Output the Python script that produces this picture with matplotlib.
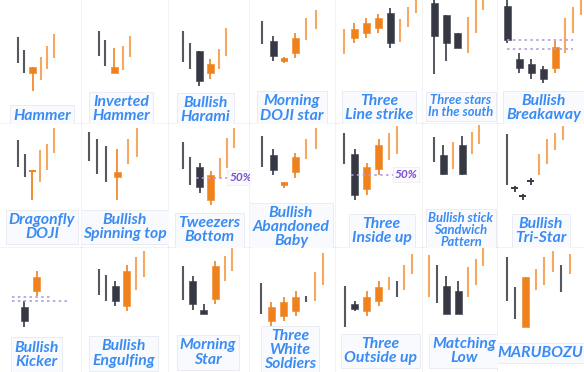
import matplotlib.pyplot as plt

# candle tuples: (kind, open, high, low, close)
# kind "w" = thin context line, "c" = full candle, "x" = doji / cross
HAMMER = [("w", 87, 87, 61, 61), ("w", 74, 74, 51, 51), ("c", 51, 57, 33, 57),
          ("w", 44, 67, 44, 67), ("w", 55, 78, 55, 78), ("w", 66, 90, 66, 90)]
INVERTED_HAMMER = [("w", 93, 93, 68, 68), ("w", 84, 84, 58, 58), ("c", 51, 76, 51, 57),
                   ("w", 54, 78, 54, 78), ("w", 67, 88, 67, 88)]
BULLISH_HARAMI = [("w", 93, 93, 62, 62), ("w", 81, 81, 55, 55), ("c", 73, 73, 38, 43),
                  ("c", 51, 65, 45, 60), ("w", 55, 75, 55, 75), ("w", 68, 96, 68, 96)]
MORNING_DOJI_STAR = [("w", 103, 103, 80, 80), ("c", 83, 88, 63, 68), ("x", 63.5, 66.5, 60.5, 64.5),
                     ("c", 71, 91, 66, 86), ("w", 84, 106, 84, 106), ("w", 95, 114, 95, 114)]
THREE_LINE_STRIKE = [("w", 70, 95, 70, 95), ("c", 86, 101, 81, 95), ("c", 91, 106, 86, 101),
                     ("c", 96, 110, 91, 106), ("c", 111, 116, 76, 81), ("w", 82, 105, 82, 105),
                     ("w", 97, 117, 97, 117), ("w", 111, 130, 111, 130)]
THREE_STARS_SOUTH = [("c", 121, 126, 50, 88), ("c", 109, 109, 63, 81), ("c", 91, 91, 76, 76),
                     ("w", 71, 107, 71, 107), ("w", 91, 128, 91, 128), ("w", 114, 130, 114, 130)]
BULLISH_BREAKAWAY = [("c", 118, 128, 81, 84), ("c", 65, 71, 51, 56), ("c", 60, 65, 45, 51),
                     ("c", 55, 58, 41, 45), ("c", 56, 83, 51, 77), ("w", 71, 106, 71, 106),
                     ("w", 91, 117, 91, 117), ("w", 109, 130, 109, 130)]

DRAGONFLY_DOJI = [("w", 107.5, 107.5, 81, 81), ("w", 94, 94, 71, 71), ("x", 77, 77, 47.5, 77),
                  ("w", 66, 97.5, 66, 97.5), ("w", 77.5, 103.5, 77.5, 103.5), ("w", 95, 119.5, 95, 119.5)]
SPINNING_TOP = [("w", 115, 115, 87, 87), ("w", 108, 108, 73.5, 73.5), ("w", 101, 101, 66, 66),
                ("c", 70, 98, 47.5, 75), ("w", 83.5, 108.5, 83.5, 108.5), ("w", 91, 119, 91, 119)]
TWEEZERS_BOTTOM = [("w", 105, 105, 79, 79), ("w", 91, 91, 63, 63), ("c", 80, 85, 54.5, 60),
                   ("c", 47.5, 77, 42.5, 72), ("w", 70, 90, 70, 90), ("w", 80, 109, 80, 109),
                   ("w", 99, 119, 99, 119)]
ABANDONED_BABY = [("w", 111, 111, 81, 81), ("c", 92.5, 98, 72.5, 77.5), ("x", 63, 66, 60, 64),
                  ("c", 75, 95, 70, 90), ("w", 88.5, 108.5, 88.5, 108.5), ("w", 98, 119.5, 98, 119.5)]
THREE_INSIDE_UP = [("w", 114, 114, 84, 84), ("c", 93, 98, 47.5, 52.5), ("c", 58, 85, 53, 80),
                   ("c", 78, 108, 73, 102.5), ("w", 87.5, 114, 87.5, 114), ("w", 94, 121, 94, 121)]
STICK_SANDWICH = [("w", 110, 110, 86, 86), ("c", 92.5, 102.5, 73, 73), ("w", 78.5, 105, 78.5, 105),
                  ("c", 102.5, 111, 73, 73), ("w", 93.5, 115, 93.5, 115), ("w", 103.5, 122, 103.5, 122)]
TRI_STAR = [("w", 113, 113, 62.5, 62.5), ("x", 59.3, 62, 56, 59.1), ("x", 51.3, 54, 48, 51.1),
            ("x", 66.3, 69.5, 63, 66.1), ("w", 73, 94, 73, 94), ("w", 84, 108, 84, 108),
            ("w", 97.5, 114, 97.5, 114), ("w", 107.5, 121, 107.5, 121)]

BULLISH_KICKER = [("c", 65, 70.7, 45, 50.7), ("c", 80.7, 100.7, 75.7, 95)]
BULLISH_ENGULFING = [("w", 103, 103, 77, 77), ("w", 96.7, 96.7, 70.7, 70.7), ("c", 85.7, 90.7, 65.7, 70.7),
                     ("c", 65.7, 106.7, 60.7, 101.3), ("w", 82.3, 114.7, 82.3, 114.7),
                     ("w", 94.7, 121.3, 94.7, 121.3)]
MORNING_STAR = [("w", 105.7, 105.7, 72.3, 72.3), ("c", 90.7, 95.7, 62.3, 68), ("c", 62.3, 68, 58.3, 58.3),
                ("c", 73.3, 110.7, 68.3, 105.7), ("w", 90.7, 115.7, 90.7, 115.7), ("w", 100.7, 126, 100.7, 126)]
THREE_WHITE_SOLDIERS = [("w", 89, 89, 58, 58), ("c", 50.7, 70, 45.7, 65), ("c", 55.7, 75, 50.7, 70),
                        ("c", 60.7, 80.7, 55.7, 75), ("w", 76.3, 76.3, 70, 70), ("w", 70.7, 100, 70.7, 100),
                        ("w", 87.3, 119, 87.3, 119)]
THREE_OUTSIDE_UP = [("w", 85.7, 85.7, 45, 45), ("c", 68, 70.7, 60.7, 63), ("c", 60.7, 80.7, 55.7, 75),
                    ("c", 70.7, 90.7, 65.7, 85), ("w", 82.3, 94.7, 82.3, 94.7), ("w", 90.7, 90.7, 75, 75),
                    ("w", 82.3, 107.3, 82.3, 107.3), ("w", 98.3, 118, 98.3, 118)]
MATCHING_LOW = [("w", 74.7, 116.7, 74.7, 116.7), ("w", 106.7, 106.7, 69, 69), ("c", 85.7, 95.7, 58.3, 58.3),
                ("c", 80.7, 90.7, 58.3, 58.3), ("w", 74.7, 104.7, 74.7, 104.7), ("w", 87.3, 113.3, 87.3, 113.3),
                ("w", 105.7, 126, 105.7, 126)]
MARUBOZU = [("w", 114.7, 114.7, 71.3, 71.3), ("w", 84.7, 84.7, 53.3, 53.3), ("c", 45, 95, 45, 95),
            ("w", 82.3, 103.3, 82.3, 103.3), ("w", 86.7, 115, 86.7, 115), ("w", 100, 121.3, 100, 121.3),
            ("w", 107.3, 107.3, 80, 80), ("w", 98, 118, 98, 118)]

PATTERNS = [HAMMER, INVERTED_HAMMER, BULLISH_HARAMI, MORNING_DOJI_STAR, THREE_LINE_STRIKE,
            THREE_STARS_SOUTH, BULLISH_BREAKAWAY,
            DRAGONFLY_DOJI, SPINNING_TOP, TWEEZERS_BOTTOM, ABANDONED_BABY, THREE_INSIDE_UP,
            STICK_SANDWICH, TRI_STAR,
            BULLISH_KICKER, BULLISH_ENGULFING, MORNING_STAR, THREE_WHITE_SOLDIERS, THREE_OUTSIDE_UP,
            MATCHING_LOW, MARUBOZU]

LABELS = ["Hammer", "Inverted\nHammer", "Bullish\nHarami", "Morning\nDOJI star", "Three\nLine strike",
          "Three stars\nIn the south", "Bullish\nBreakaway",
          "Dragonfly\nDOJI", "Bullish\nSpinning top", "Tweezers\nBottom", "Bullish\nAbandoned\nBaby",
          "Three\nInside up", "Bullish stick\nSandwich\nPattern", "Bullish\nTri-Star",
          "Bullish\nKicker", "Bullish\nEngulfing", "Morning\nStar", "Three\nWhite\nSoldiers",
          "Three\nOutside up", "Matching\nLow", "MARUBOZU"]

# dotted support levels: panel -> [(price, x from, x to)]
LEVELS = {6: [(84, 8.7, 75.3), (75, 8.7, 75.3)],
          14: [(75, 11.7, 51.7), (70.7, 11.7, 66.7)]}
# 50% retracement of a candle body: panel -> (candle index, line end x, text x)
HALF_MARKS = {9: (2, 60, 72), 11: (1, 57.6, 70.5)}

# layout (pixels)
W, H = 584, 372
COL_EDGES = [0, 82, 168.5, 250, 335.7, 423, 498, 584]
ROW_EDGES = [0, 124, 247.5, 372]
X_START = [17.7, 16.5, 14.8, 12, 8.6, 11.3, 9,
           17.7, 6.5, 14.8, 12, 8.6, 11, 8.7,
           24, 16.5, 14.8, 11, 9.3, 6, 8.7]
X_STEP = [6.4, 6.8, 7, 9.1, 8, 7.8, 8,
          7.3, 8.9, 7.1, 9.1, 8.2, 7.4, 8,
          8.7, 7.4, 7.3, 8.3, 7.9, 7.7, 8.4]
LABEL_POS = [(42, 115.5), (39, 109), (37, 110), (41.7, 108.5), (43.5, 108.3), (38, 106.5), (46, 108.3),
             (42, 103), (42.8, 103), (41, 106.5), (41, 103), (46, 107.5), (38, 106), (43, 107.5),
             (36.5, 107), (41.5, 106), (39.5, 105), (40, 103), (44.5, 103.5), (41, 103.5), (42, 105.7)]
SMALL_LABEL = {5, 12}

BULL = "#f0821e"
BEAR = "#363944"
BULL_THIN = "#f6a760"
BEAR_THIN = "#55585f"
TEXT_BLUE = "#3b8cf2"
LEVEL_COLOR = "#b39ddb"
PURPLE = "#7a4fd0"
GRID = "#a3a3aa"


def draw_candles(ax, candles, x0, step):
    xs = []
    x = x0
    prev = None
    for i, (kind, o, h, l, c) in enumerate(candles):
        if i > 0:
            x += step + 2 * (prev == "c") + 2 * (kind == "c")
        xs.append(x)
        up = c >= o
        if kind == "w":
            ax.vlines(x, l, h, color=BULL_THIN if up else BEAR_THIN, lw=1.5)
        elif kind == "x":
            col = BULL if up else BEAR
            ax.vlines(x, l, h, color=col, lw=1.3)
            ax.hlines((o + c) / 2, x - 3.5, x + 3.5, color=col,
                      lw=2.6 if abs(c - o) > 0.5 else 1.4)
        else:
            col = BULL if up else BEAR
            ax.vlines(x, l, h, color=col, lw=1.2)
            ax.bar(x, abs(c - o), bottom=min(o, c), width=7, color=col,
                   edgecolor="#5c5f68" if not up else "#f39a4a", lw=0.6)
        prev = kind
    return xs


fig = plt.figure(figsize=(W / 100, H / 100), dpi=100)
fig.patch.set_facecolor("white")

for i, candles in enumerate(PATTERNS):
    r, col = divmod(i, 7)
    x0, x1 = COL_EDGES[col], COL_EDGES[col + 1]
    y0, y1 = ROW_EDGES[r], ROW_EDGES[r + 1]
    cw, ch = x1 - x0, y1 - y0
    ax = fig.add_axes([x0 / W, 1 - y1 / H, cw / W, ch / H])
    ax.set_xlim(0, cw)
    ax.set_ylim(0, ch)
    ax.set_xticks([])
    ax.set_yticks([])
    ax.set_facecolor("white")
    for side in ["top", "left"]:
        ax.spines[side].set_visible(False)
    ax.spines["right"].set_visible(col < 6)
    ax.spines["bottom"].set_visible(r < 2)
    for side in ["right", "bottom"]:
        ax.spines[side].set_color(GRID)
        ax.spines[side].set_linewidth(0.9)

    xs = draw_candles(ax, candles, X_START[i], X_STEP[i])

    for price, xa, xb in LEVELS.get(i, []):
        ax.hlines(price, xa, xb, color=LEVEL_COLOR, lw=1.2, linestyles=(0, (1.5, 2)))
    if i in HALF_MARKS:
        k, xend, xt = HALF_MARKS[i]
        _, o, h, l, c = candles[k]
        mid = (o + c) / 2
        ax.hlines(mid, xs[k] - 4, xend, color=LEVEL_COLOR, lw=1.2, linestyles=(0, (1.5, 2)))
        ax.text(xt, mid, "50%", color=PURPLE, fontsize=8.6, fontweight="bold", style="italic",
                family=["Lato", "DejaVu Sans"], ha="center", va="center", clip_on=False, zorder=5,
                bbox=dict(boxstyle="square,pad=0.15", fc="#fbfbfd", ec="#eeeef3", lw=0.6))

    lx, ly = LABEL_POS[i]
    ax.text(lx, ch - ly, LABELS[i], color=TEXT_BLUE, fontsize=9.4 if i in SMALL_LABEL else 11.3,
            fontweight="bold", style="italic", family=["Lato", "DejaVu Sans"],
            ha="center", va="center", linespacing=1.0, clip_on=True, zorder=4,
            bbox=dict(boxstyle="square,pad=0.2", fc="#f8fafd", ec="#e9edf3", lw=0.7))

fig.savefig("out.png", dpi=100)
